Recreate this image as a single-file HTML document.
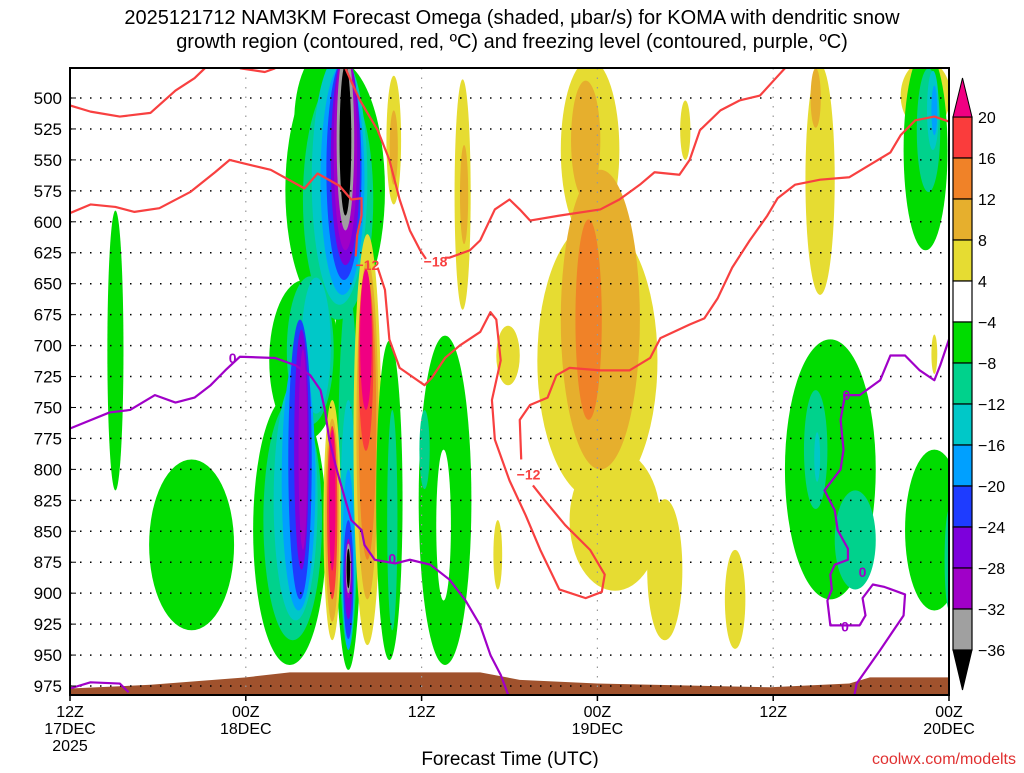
<!DOCTYPE html>
<html><head><meta charset="utf-8">
<style>
html,body{margin:0;padding:0;background:#fff;}
body{width:1024px;height:768px;overflow:hidden;font-family:"Liberation Sans",sans-serif;}
svg text{font-family:"Liberation Sans",sans-serif;}
</style></head>
<body>
<svg id="chart" width="1024" height="768" viewBox="0 0 1024 768" xmlns="http://www.w3.org/2000/svg">
<text x="512" y="24" font-size="20" text-anchor="middle">2025121712 NAM3KM Forecast Omega (shaded, μbar/s) for KOMA with dendritic snow</text>
<text x="512" y="48" font-size="20" text-anchor="middle">growth region (contoured, red, ºC) and freezing level (contoured, purple, ºC)</text>
<defs><clipPath id="plotclip"><rect x="70" y="68" width="879" height="627"/></clipPath></defs>
<g id="shading" clip-path="url(#plotclip)"></g>
<g id="ground" clip-path="url(#plotclip)"></g>
<g id="grid"></g>
<g id="contours" clip-path="url(#plotclip)"></g>
<rect x="70" y="68" width="879" height="627" fill="none" stroke="#000" stroke-width="2"/>
<g id="yaxis"></g>
<g id="xaxis"></g>
<text x="510" y="765" font-size="19" text-anchor="middle">Forecast Time (UTC)</text>
<text x="1016" y="764" font-size="16" fill="#e03030" text-anchor="end">coolwx.com/modelts</text>
<g id="colorbar"></g>
</svg>
<script>
// ---------- data ----------
const pressureTicks = [500,525,550,575,600,625,650,675,700,725,750,775,800,825,850,875,900,925,950,975];
const timeTickHours = [0,12,24,36,48,60];
const timeTickLabels = [["12Z","17DEC","2025"],["00Z","18DEC"],["12Z"],["00Z","19DEC"],["12Z"],["00Z","20DEC"]];
const levelValues = [-36,-32,-28,-24,-20,-16,-12,-8,-4,4,8,12,16,20];
const levelColors = {"-40":"#000000","-36":"#a0a0a0","-32":"#a000c8","-28":"#7d00dc","-24":"#1e3cff","-20":"#00a0ff","-16":"#00c8c8","-12":"#00d28c","-8":"#00dc00","0":"#ffffff","4":"#e6dc32","8":"#e6af2d","12":"#f08228","16":"#fa3c3c","20":"#f00082"};
// blobs: [hour, pressure hPa, half-width hours, half-height hPa, omega level]
const omegaBlobs = [
 [3.1,704,0.55,113,-8],[8.3,861,2.9,69,-8],
 [15.0,849,2.5,109,-8],[18.1,574,3.4,105,-8],[19.0,776,1.0,186,-8],[16.0,712,2.4,65,-8],[17.5,520,2.2,60,-8],
 [15.2,841,2.0,97,-12],[18.3,582,2.4,97,-12],[19.0,800,0.7,145,-12],[16.4,704,1.6,60,-12],
 [15.4,825,1.5,97,-16],[18.4,566,1.9,101,-16],[19.0,841,0.55,97,-16],[16.8,700,1.0,55,-16],
 [15.6,809,1.15,105,-20],[18.6,566,1.5,93,-20],[19.0,873,0.4,73,-20],
 [15.7,792,0.8,113,-24],[18.7,558,1.2,89,-24],[19.0,889,0.35,48,-24],
 [15.8,784,0.5,97,-28],[18.8,550,1.0,85,-28],[19.0,889,0.27,32,-28],
 [15.9,784,0.3,81,-32],[18.8,542,0.8,81,-32],[19.0,880,0.2,24,-32],
 [18.8,534,0.6,73,-36],[19.0,880,0.17,20,-36],
 [18.8,534,0.4,61,-40],[19.0,880,0.12,16,-40],
 [20.3,776,0.95,166,4],[20.3,768,0.75,137,8],[20.3,760,0.6,113,12],[20.2,712,0.5,73,16],[20.2,695,0.4,57,20],
 [17.9,841,0.6,97,4],[17.9,841,0.48,82,8],[17.9,835,0.35,70,16],[17.9,825,0.22,57,20],
 [21.8,825,0.9,129,-8],[22.0,841,0.35,89,-12],
 [22.1,534,0.5,52,4],[22.1,540,0.28,30,8],
 [25.6,825,1.8,133,-8],[25.5,845,0.5,61,0],[24.2,784,0.35,32,-12],
 [26.8,578,0.55,93,4],[26.9,578,0.28,40,8],
 [29.9,708,0.8,24,4],[29.2,869,0.3,28,4],
 [35.5,542,2.0,73,4],[36.0,712,4.1,113,4],[37.2,841,3.1,57,4],[40.6,881,1.2,57,4],[45.4,905,0.7,40,4],[42.0,526,0.35,24,4],
 [36.2,679,2.7,121,8],[35.2,534,1.0,48,8],[35.4,679,0.9,81,12],
 [51.2,566,1.0,93,4],[50.9,500,0.35,24,8],
 [58.4,498,1.7,28,4],[58.4,542,1.5,81,-8],[58.6,526,0.8,50,-12],[58.9,510,0.4,32,-16],[59.0,510,0.2,20,-20],
 [59.0,707,0.2,16,4],
 [51.9,800,3.1,105,-8],[50.9,784,0.8,48,-12],[53.6,857,1.4,40,-12],[51.0,790,0.2,20,-16],
 [59.0,849,2.0,65,-8],[60.0,873,0.3,40,-12]
];
const groundHours = [0,5.5,12,15,28,30.7,36,47.8,53.2,54.6,60];
const groundPressure = [977,974,968,964,964,970,973,976,973,968,968];
const freezeLineA = [[0,767],[2.7,754],[4.1,752],[5.8,740],[7.2,746],[8.5,742],[9.6,732],[10.6,720],[11.6,709],[14.0,710],[15.4,716],[16.4,724],[17.1,736],[17.4,752],[17.7,776],[18.2,800],[18.8,825],[19.2,841],[19.9,849],[20.1,861],[20.8,873],[22.2,876],[23.2,873],[24.6,877],[25.9,889],[27.0,906],[28.0,926],[28.7,950],[29.4,966],[30,985]];
const freezeLineB = [[0,977],[1.4,972],[3.4,973],[4,980]];
const freezeLineC = [[53.5,985],[53.7,973],[55.3,946],[56.9,918],[57.0,901],[55.6,895],[54.8,893],[54.1,904],[54.3,918],[53.9,926],[51.9,926],[51.7,906],[52.0,897],[51.9,885],[52.2,877],[53.1,873],[53.1,864],[52.4,849],[52.2,833],[51.5,817],[52.6,800],[52.8,784],[52.6,760],[52.9,740],[53.9,740],[55.3,728],[56.0,708],[57.0,708],[58.0,720],[59.0,728],[59.4,716],[60,695]];
const freezeLabels = [[11.1,710],[22.0,872],[53.0,740],[52.9,927],[54.1,883]];
const dgzLine18 = [[18.8,476],[19.1,484],[19.8,502],[21.0,526],[21.8,550],[22.5,582],[23.2,607],[23.9,623],[24.3,630]];
const dgzLine18b = [[25.6,629],[25.9,629],[27.3,623],[28.0,615],[29.0,590],[30.0,582],[30.7,590],[31.4,599],[33.4,595],[36.2,590],[37.5,582],[38.9,570],[39.9,560],[41.6,562],[42.3,550],[43.0,526],[44.4,510],[45.7,502],[47.1,498],[48.1,485],[48.8,476]];
const dgzLine18c = [[0,506],[1.4,511],[3.4,515],[5.5,512],[7.2,494],[8.5,484],[9.2,476]];
const dgzLine18d = [[11.6,476],[13.3,479],[14.0,476]];
const dgzLine12a = [[0,593],[1.4,586],[3.1,588],[4.4,592],[6.1,589],[8.2,576],[9.9,560],[10.9,550],[11.9,553],[13.7,558],[16.0,573],[16.9,561],[18.4,571],[19.2,582],[19.9,581],[19.9,595],[19.6,611],[19.5,628]];
const dgzLine12b = [[21.0,637],[21.5,655],[21.8,695],[22.5,718],[24.2,732],[24.7,726],[25.6,710],[26.6,700],[28.0,689],[28.7,673],[29.1,679],[29.4,712],[28.8,744],[29.0,776],[30.0,809],[31.1,837],[32.1,865],[33.4,897],[35.2,904],[36.3,899],[36.5,885],[35.5,865],[33.8,845],[32.4,825],[31.6,813]];
const dgzLine12c = [[30.8,792],[30.7,760],[31.4,748],[32.6,742],[33.2,724],[34.1,718],[36.2,720],[38.2,720],[39.6,710],[40.3,694],[42.3,683],[43.3,678],[44.2,662],[45.2,637],[46.4,615],[47.6,595],[48.3,581],[49.5,570],[51.2,566],[53.2,564],[54.6,554],[56.0,544],[56.7,530],[57.7,518],[59.0,515],[60,519]];
const dgzLabels = [[20.3,635,"−12"],[24.95,632,"−18"],[31.3,804,"−12"]];

// ---------- axes ----------
const X0=70, XPH=14.65;
function xs(h){return X0+h*XPH;}
function ys(p){return 98+(p-500)/0.8078;}
const NS="http://www.w3.org/2000/svg";
function mk(tag,attrs,parent){const e=document.createElementNS(NS,tag);for(const k in attrs)e.setAttribute(k,attrs[k]);parent.appendChild(e);return e;}

const shading=document.getElementById('shading');
omegaBlobs.forEach(b=>{
  const e=mk('ellipse',{cx:xs(b[0]),cy:ys(b[1]),rx:b[2]*XPH,ry:b[3]/0.8078,fill:levelColors[String(b[4])]},shading);
  
  
});

const ground=document.getElementById('ground');
let gd='M'+xs(0)+',700 ';
groundHours.forEach((h,i)=>{gd+='L'+xs(h)+','+ys(groundPressure[i])+' ';});
gd+='L'+xs(60)+',700 Z';
const gp=mk('path',{d:gd,fill:'#a0522d'},ground);



const grid=document.getElementById('grid');
pressureTicks.forEach(p=>{
  const l=mk('line',{x1:70,x2:949,y1:ys(p),y2:ys(p),stroke:'#000','stroke-width':1.5,'stroke-dasharray':'1.5 8.5'},grid);
  
  
});
timeTickHours.slice(1,-1).forEach(h=>{
  const l=mk('line',{x1:xs(h),x2:xs(h),y1:68,y2:695,stroke:'#999','stroke-width':1.2,'stroke-dasharray':'1.5 8'},grid);
  
  
});

const cont=document.getElementById('contours');
function poly(pts,color,name){
  const e=mk('polyline',{points:pts.map(q=>xs(q[0])+','+ys(q[1])).join(' '),fill:'none',stroke:color,'stroke-width':2.2,'stroke-linejoin':'round'},cont);
  
  
}
[dgzLine18,dgzLine18b,dgzLine18c,dgzLine18d,dgzLine12a,dgzLine12b,dgzLine12c].forEach(l=>poly(l,'#f84040','dgz-contour'));
[freezeLineA,freezeLineB,freezeLineC].forEach(l=>poly(l,'#a000c8','freezing-level-contour'));
dgzLabels.forEach(d=>{
  const t=mk('text',{x:xs(d[0]),y:ys(d[1])+5,'font-size':14,'font-weight':'bold',fill:'#f84040','text-anchor':'middle'},cont);
  t.textContent=d[2];
  
  
});
freezeLabels.forEach(d=>{
  const t=mk('text',{x:xs(d[0]),y:ys(d[1])+5,'font-size':14,'font-weight':'bold',fill:'#a000c8','text-anchor':'middle'},cont);
  t.textContent='0';
  
  
});

const yax=document.getElementById('yaxis');
pressureTicks.forEach(p=>{
  const t=mk('text',{x:62,y:ys(p)+6,'font-size':17,'text-anchor':'end'},yax);
  t.textContent=p;
  
  
  const k=mk('line',{x1:70,x2:76,y1:ys(p),y2:ys(p),stroke:'#000'},yax);
  
  
});
const xax=document.getElementById('xaxis');
timeTickHours.forEach((h,i)=>{
  const k=mk('line',{x1:xs(h),x2:xs(h),y1:695,y2:701,stroke:'#000','stroke-width':1.5},xax);
  
  
  timeTickLabels[i].forEach((s,j)=>{
    const t=mk('text',{x:xs(h),y:717+j*17,'font-size':16,'text-anchor':'middle'},xax);
    t.textContent=s;
    
    
  });
});

// colorbar
const cb=document.getElementById('colorbar');
const CBX=953, CBW=19, CBTOP=117, CBSTEP=41;
const boxColors=["#fa3c3c","#f08228","#e6af2d","#e6dc32","#ffffff","#00dc00","#00d28c","#00c8c8","#00a0ff","#1e3cff","#7d00dc","#a000c8","#a0a0a0"];
boxColors.forEach((c,i)=>{
  const r=mk('rect',{x:CBX,y:CBTOP+i*CBSTEP,width:CBW,height:CBSTEP,fill:c,stroke:'#000','stroke-width':1.2},cb);
  
  
});
const tri1=mk('polygon',{points:`${CBX},${CBTOP} ${CBX+CBW},${CBTOP} ${CBX+CBW/2},78`,fill:'#f00082',stroke:'#000'},cb);


const yb=CBTOP+boxColors.length*CBSTEP;
const tri2=mk('polygon',{points:`${CBX},${yb} ${CBX+CBW},${yb} ${CBX+CBW/2},${yb+40}`,fill:'#000',stroke:'#000'},cb);


const cbLabels=[20,16,12,8,4,-4,-8,-12,-16,-20,-24,-28,-32,-36];
cbLabels.forEach((v,i)=>{
  const t=mk('text',{x:978,y:CBTOP+i*CBSTEP+6,'font-size':16},cb);
  t.textContent=v<0?'−'+(-v):String(v);
  
  
});
</script>
</body></html>
